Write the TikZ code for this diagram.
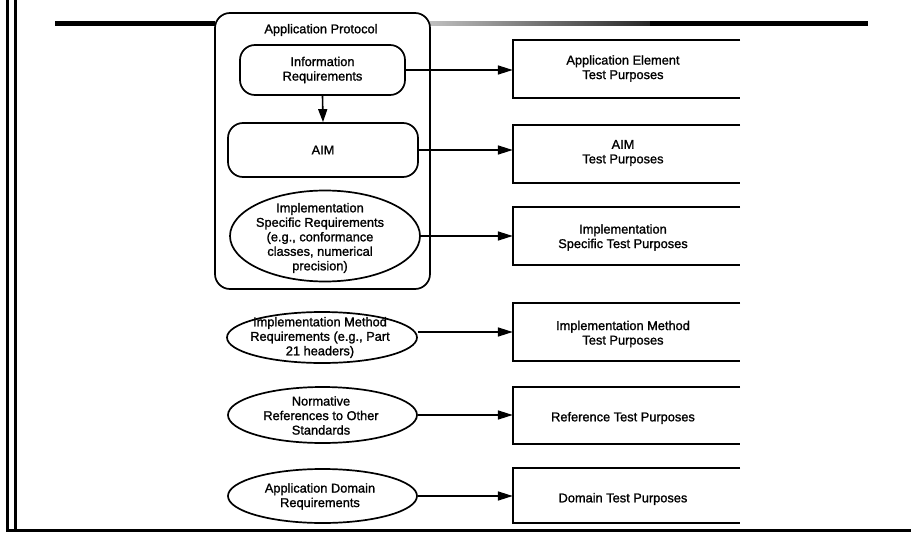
\documentclass[tikz,border=0pt]{standalone}
\usepackage{fontspec}
\setmainfont{Liberation Sans}
\newfontfamily\lblfont{Liberation Sans}[FakeBold=1.3]
\usetikzlibrary{shapes.geometric,arrows.meta}

\tikzset{
  lbl/.style={font=\lblfont\fontsize{12.8pt}{14.5pt}\selectfont, align=center, inner sep=0pt},
  frame/.style={draw, line width=1.7pt},
  roundbox/.style={frame, rectangle, rounded corners=15pt, inner sep=0pt},
  reqoval/.style={frame, ellipse, inner sep=0pt},
  tpbox/.style={rectangle, inner sep=0pt, minimum width=227pt},
  tpedge/.style={line width=1.7pt},
  arr/.style={line width=1.6pt, -{Triangle[length=15pt,width=9pt]}},
  downarr/.style={line width=1.6pt, -{Triangle[length=13pt,width=9pt]}}
}

\begin{document}
\begin{tikzpicture}[x=1pt,y=-1pt]
\useasboundingbox (0,0) rectangle (911,533);

% page rules
\draw[line width=3pt] (7.5,0) -- (7.5,531.5);
\draw[line width=3pt] (15,0) -- (15,530);
\draw[line width=3pt] (6,530.5) -- (911,530.5);
\fill (55,21) rectangle (215,26);
\shade[left color=black!25, right color=black!85] (430,21.5) rectangle (650,25.5);
\fill (650,21) rectangle (868,26);

% application protocol group
\node[roundbox, minimum width=215pt, minimum height=276pt] (ap) at (322.5,151) {};
\node[lbl] (aptitle) at (321,30) {Application Protocol};

\node[roundbox, minimum width=165pt, minimum height=50pt] (ir) at (322.5,70) {};
\node[lbl] (irtxt) at (ir.center) {Information\\Requirements};
\node[roundbox, minimum width=190pt, minimum height=54pt] (aim) at (323,150) {};
\node[lbl] (aimtxt) at (aim.center) {AIM};

\node[reqoval, minimum width=190pt, minimum height=91pt] (isr) at (325,236) {};
\node[lbl] (isrtxt) at (320,238) {Implementation\\Specific Requirements\\(e.g., conformance\\classes, numerical\\precision)};

% requirement ovals below the group
\node[reqoval, minimum width=190pt, minimum height=51pt] (imr) at (322,337.5) {};
\node[lbl] (imrtxt) at (320,337.5) {Implementation Method\\Requirements (e.g., Part\\21 headers)};

\node[reqoval, minimum width=189pt, minimum height=56pt] (nr) at (322.5,415) {};
\node[lbl] (nrtxt) at (321,415.5) {Normative\\References to Other\\Standards};

\node[reqoval, minimum width=189pt, minimum height=54pt] (adr) at (322.5,496) {};
\node[lbl] (adrtxt) at (320,496.5) {Application Domain\\Requirements};

% test purpose boxes (open on the right)
\node[tpbox, minimum height=58pt] (ae) at (626.5,69) {};
\node[tpbox, minimum height=58pt] (aimtp) at (626.5,154) {};
\node[tpbox, minimum height=58pt] (istp) at (626.5,236) {};
\node[tpbox, minimum height=58pt] (imtp) at (626.5,332) {};
\node[tpbox, minimum height=57pt] (rtp) at (626.5,415.5) {};
\node[tpbox, minimum height=55pt] (dtp) at (626.5,495.5) {};

\foreach \b in {ae,aimtp,istp,imtp,rtp,dtp}
  \draw[tpedge] (\b.north east) -- (\b.north west) -- (\b.south west) -- (\b.south east);

\node[lbl] (aetxt) at (623,68.5) {Application Element\\Test Purposes};
\node[lbl] (aimtptxt) at (623,153) {AIM\\Test Purposes};
\node[lbl] (isttxt) at (623,237.5) {Implementation\\Specific Test Purposes};
\node[lbl] (imtptxt) at (623,334) {Implementation Method\\Test Purposes};
\node[lbl] (rtptxt) at (623,418) {Reference Test Purposes};
\node[lbl] (dtptxt) at (623,499) {Domain Test Purposes};

% connectors
\draw[downarr] (ir.south) -- (aim.north);
\draw[arr] (ir.east) -- (ir.east -| ae.west);
\draw[arr] (aim.east) -- (aim.east -| aimtp.west);
\draw[arr] (isr.east) -- (isr.east -| istp.west);
\draw[arr] (imtp.west -| imr.east) -- (imtp.west);
\draw[arr] (nr.east) -- (nr.east -| rtp.west);
\draw[arr] (adr.east) -- (adr.east -| dtp.west);
\end{tikzpicture}
\end{document}
